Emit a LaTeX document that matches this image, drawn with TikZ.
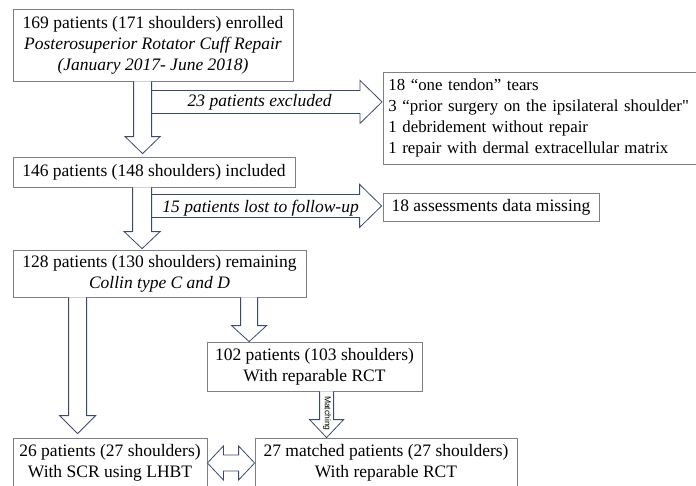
\documentclass[tikz,border=0pt]{standalone}
\usepackage{fontspec}
\setmainfont{Liberation Serif}[Ligatures=TeXOff]
\newfontfamily\matchfont{Liberation Sans}
\usepackage{xcolor}
\usepackage{tikz}
\usetikzlibrary{positioning,calc}

\definecolor{boxgray}{HTML}{808080}
\definecolor{arrownavy}{HTML}{3A4A6E}

% block arrows: tail, target node, shaft half, head half, head length, gap
\newcommand{\downblock}[6]{%
	\draw[blockarrow] let \p1=#1, \p2=#2 in
	(\x1-#3pt,\y1) -- (\x1-#3pt,\y2+#6pt+#5pt) -- (\x1-#4pt,\y2+#6pt+#5pt) -- (\x1,\y2+#6pt)
	-- (\x1+#4pt,\y2+#6pt+#5pt) -- (\x1+#3pt,\y2+#6pt+#5pt) -- (\x1+#3pt,\y1);}
\newcommand{\rightblock}[6]{%
	\draw[blockarrow] let \p1=#1, \p2=#2 in
	(\x1,\y1+#3pt) -- (\x2-#6pt-#5pt,\y1+#3pt) -- (\x2-#6pt-#5pt,\y1+#4pt) -- (\x2-#6pt,\y1)
	-- (\x2-#6pt-#5pt,\y1-#4pt) -- (\x2-#6pt-#5pt,\y1-#3pt) -- (\x1,\y1-#3pt);}

\begin{document}
\begin{tikzpicture}[
	x=1pt, y=-1pt,
	every node/.style={
		font=\fontsize{17.5}{21}\selectfont, inner sep=0pt
	},
	box/.style={
		rectangle, draw=boxgray, line width=0.8pt, fill=white, align=center
	},
	lbl/.style={font=\fontsize{17.5}{21}\selectfont\itshape},
	blockarrow/.style={draw=arrownavy, line width=0.8pt, fill=white, line join=miter}
	]
	\useasboundingbox (0,0) rectangle (696,485);
	
	% main column
	\node[box, minimum width=280, minimum height=72] (enrolled) at (153,45)
	{169 patients (171 shoulders) enrolled\\
		\textit{Posterosuperior Rotator Cuff Repair}\\
		\textit{(January 2017- June 2018)}};
	\node[box, minimum width=282, minimum height=30] (included) at (154,172)
	{146 patients (148 shoulders) included};
	\node[box, minimum width=293, minimum height=47] (remaining) at (159.5,273.5)
	{128 patients (130 shoulders) remaining\\ \textit{Collin type C and D}};
	
	% side boxes
	\node[box, anchor=north west, align=left, text width=330, inner xsep=5,
	minimum height=92, font=\fontsize{16.8}{21}\selectfont] (excluded) at (383,72)
	{18 “one tendon” tears\\
		3 “prior surgery on the ipsilateral shoulder"\\
		1 debridement without repair\\
		1 repair with dermal extracellular matrix};
	\node[box, minimum width=216, minimum height=28] (missing) at (491,207)
	{18 assessments data missing};
	
	% groups
	\node[box, minimum width=215, minimum height=49] (reparable) at (314.5,366.5)
	{102 patients (103 shoulders)\\ With reparable RCT};
	\node[box, minimum width=194, minimum height=50] (scr) at (110,463)
	{26 patients (27 shoulders)\\ With SCR using LHBT};
	\node[box, minimum width=262, minimum height=50] (matched) at (386,463)
	{27 matched patients (27 shoulders)\\ With reparable RCT};
	
	% exclusions
	\rightblock{($(enrolled.south west)+(139,20.5)$)}{(excluded.west)}{11.5}{21.5}{22}{1}
	\rightblock{($(included.south west)+(139,18.5)$)}{(missing.west)}{11.5}{21.5}{22}{1}
	\node[lbl] (exlabel) at ($(enrolled.south west)+(247,21)$) {23 patients excluded};
	\node[lbl] (lostlabel) at ($(included.south west)+(248,21)$) {15 patients lost to follow-up};
	
	% flow downwards
	\downblock{($(enrolled.south west)+(130,0)$)}{(included.north)}{9}{17.5}{17}{3}
	\downblock{($(included.south west)+(129.5,0)$)}{(remaining.north)}{9.5}{18}{17}{1}
	\downblock{($(remaining.south west)+(65,0)$)}{(scr.north)}{9}{18}{18}{4}
	\downblock{($(remaining.south west)+(236.5,0)$)}{(reparable.north)}{8.5}{17.5}{16}{0}
	\downblock{($(reparable.south west)+(120,0)$)}{(matched.north)}{7}{17}{18}{0}
	\node[rotate=-90, font=\matchfont\fontsize{8.5}{9}\selectfont] (matchlbl)
	at ($(reparable.south)+(12.5,22)$) {Matching};
	
	% comparison
	\draw[blockarrow] let \p1=(scr.east), \p2=(matched.west) in
	(\x1,\y1) -- (\x1+16pt,\y1+17pt) -- (\x1+16pt,\y1+8pt) -- (\x2-16pt,\y1+8pt)
	-- (\x2-16pt,\y1+17pt) -- (\x2,\y1) -- (\x2-16pt,\y1-17pt) -- (\x2-16pt,\y1-8pt)
	-- (\x1+16pt,\y1-8pt) -- (\x1+16pt,\y1-17pt) -- cycle;
	
\end{tikzpicture}
\end{document}
